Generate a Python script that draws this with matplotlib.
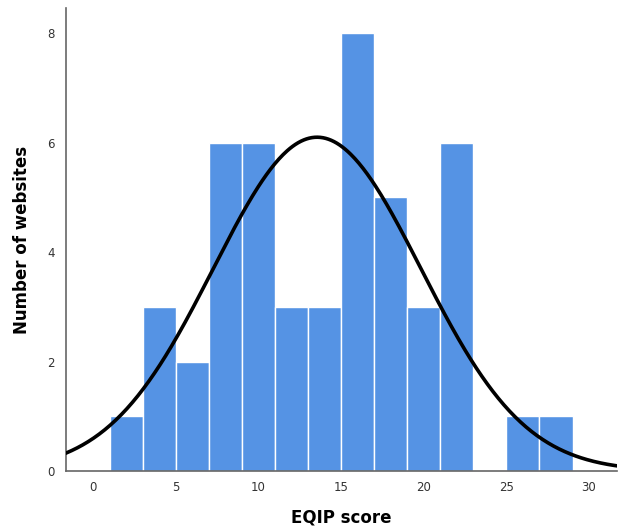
import matplotlib.pyplot as plt
import numpy as np

# histogram of EQIP scores, bins of width 2 starting at 1
bin_edges = [1, 3, 5, 7, 9, 11, 13, 15, 17, 19, 21, 23, 25, 27, 29]
counts = [1, 3, 2, 6, 6, 3, 3, 8, 5, 3, 6, 0, 1, 1]

# fitted normal curve parameters
mean_score = 13.55
sd_score = 6.28
n_sites = 48
bin_width = 2

x_ticks = [0, 5, 10, 15, 20, 25, 30]
y_ticks = [0, 2, 4, 6, 8]

fig = plt.figure(figsize=(6.24, 5.31), dpi=100)
ax = fig.add_axes([0.106, 0.113, 0.883, 0.872])

lefts = bin_edges[:-1]
ax.bar(lefts, counts, width=bin_width, align='edge', color='#5593e4',
       edgecolor='white', linewidth=1.0, zorder=2)

xs = np.linspace(-1.63, 31.7, 400)
ys = n_sites * bin_width / (sd_score * np.sqrt(2 * np.pi)) * \
    np.exp(-(xs - mean_score) ** 2 / (2 * sd_score ** 2))
ax.plot(xs, ys, color='black', linewidth=2.6, zorder=3)

ax.set_xlim(-1.63, 31.7)
ax.set_ylim(0, 8.46)
ax.set_xticks(x_ticks)
ax.set_yticks(y_ticks)
ax.tick_params(length=0, labelsize=8.5, labelcolor='#333333')
ax.tick_params(axis='y', pad=8)
ax.tick_params(axis='x', pad=7)

for s in ['top', 'right']:
    ax.spines[s].set_visible(False)
for s in ['left', 'bottom']:
    ax.spines[s].set_color('#666666')
    ax.spines[s].set_linewidth(1.2)

ax.set_xlabel('EQIP score', fontsize=12, fontweight='bold', labelpad=11)
ax.set_ylabel('Number of websites', fontsize=12, fontweight='bold', labelpad=12)

fig.savefig('out.png', dpi=100)
